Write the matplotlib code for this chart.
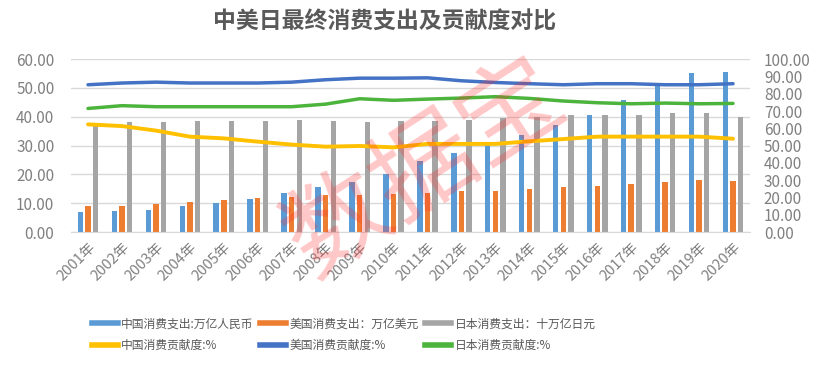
import numpy as np
import matplotlib
matplotlib.use("Agg")
from matplotlib import pyplot as plt
from matplotlib.lines import Line2D
from matplotlib.ticker import FormatStrFormatter, MultipleLocator

plt.rcParams['font.family'] = ['Noto Sans CJK SC', 'DejaVu Sans']

years = [str(y) + "年" for y in range(2001, 2021)]

# 消费支出（左轴）
cn_spend = [7.0, 7.4, 7.7, 9.0, 10.2, 11.4, 13.7, 15.7, 17.5, 20.2,
            24.5, 27.3, 30.8, 33.7, 37.2, 40.8, 45.8, 51.0, 55.2, 55.7]
us_spend = [9.0, 9.2, 9.9, 10.5, 11.1, 11.8, 12.3, 12.9, 12.9, 13.3,
            13.7, 14.1, 14.4, 15.0, 15.5, 16.0, 16.6, 17.5, 18.1, 17.8]
jp_spend = [37.2, 38.1, 38.1, 38.4, 38.4, 38.7, 39.0, 38.7, 38.1, 38.4,
            38.4, 38.8, 39.5, 40.0, 40.5, 40.5, 40.8, 41.4, 41.4, 40.0]

# 消费贡献度 %（右轴）
cn_contrib = [62.3, 61.3, 58.7, 55.2, 54.2, 52.3, 50.6, 49.4, 49.8, 49.0,
              51.0, 51.0, 51.0, 52.5, 53.8, 55.2, 55.2, 55.2, 55.2, 54.0]
us_contrib = [85.2, 86.2, 86.7, 86.2, 86.2, 86.2, 86.7, 88.1, 89.0, 89.0,
              89.2, 87.5, 86.5, 85.8, 85.2, 85.8, 85.8, 85.2, 85.2, 85.8]
jp_contrib = [71.5, 73.1, 72.5, 72.5, 72.5, 72.5, 72.5, 74.0, 77.1, 76.2,
              76.9, 77.5, 78.3, 77.3, 75.8, 74.8, 74.2, 74.6, 74.2, 74.4]

labels = ["中国消费支出:万亿人民币", "美国消费支出：万亿美元", "日本消费支出：十万亿日元",
          "中国消费贡献度:%", "美国消费贡献度:%", "日本消费贡献度:%"]
colors = ["#5B9BD5", "#ED7D31", "#A5A5A5", "#FFC000", "#4472C4", "#4CB43C"]

tick_color = "#808080"

fig = plt.figure(figsize=(8.26, 3.72), dpi=100)
ax = fig.add_axes([0.086, 0.376, 0.822, 0.465])
ax2 = ax.twinx()

x = np.arange(len(years))
w = 0.16
off = 0.225
ax.bar(x - off, cn_spend, w, color=colors[0], zorder=2)
ax.bar(x, us_spend, w, color=colors[1], zorder=2)
ax.bar(x + off, jp_spend, w, color=colors[2], zorder=2)

ax2.plot(x, cn_contrib, color=colors[3], lw=2.8, solid_capstyle='round', solid_joinstyle='round')
ax2.plot(x, us_contrib, color=colors[4], lw=2.5, solid_capstyle='round', solid_joinstyle='round')
ax2.plot(x, jp_contrib, color=colors[5], lw=2.5, solid_capstyle='round', solid_joinstyle='round')

ax.set_xlim(-0.5, len(years) - 0.5)
ax.set_ylim(0, 60)
ax2.set_ylim(0, 100)
ax.yaxis.set_major_locator(MultipleLocator(10))
ax2.yaxis.set_major_locator(MultipleLocator(10))
ax.yaxis.set_major_formatter(FormatStrFormatter('%.2f'))
ax2.yaxis.set_major_formatter(FormatStrFormatter('%.2f'))

ax.grid(axis='y', color='#D9D9D9', lw=1, zorder=0)
ax.set_axisbelow(True)
for a in (ax, ax2):
    for s in ('top', 'left', 'right'):
        a.spines[s].set_visible(False)
    a.spines['bottom'].set_color('#D9D9D9')
    a.tick_params(length=0, colors=tick_color, labelsize=11)
ax2.spines['bottom'].set_visible(False)

ax.set_xticks(x)
ax.set_xticklabels(years, rotation=45, ha='right', va='top',
                   rotation_mode='anchor', fontsize=10.5, color=tick_color)
ax.tick_params(axis='x', pad=6)
ax.tick_params(axis='y', pad=12)
ax2.tick_params(axis='y', pad=10)

fig.text(0.465, 0.94, "中美日最终消费支出及贡献度对比", ha='center', va='center',
         fontsize=16.5, fontweight='bold', color='#595959')

# watermark
fig.text(0.515, 0.545, "数据宝", ha='center', va='center', rotation=33,
         fontsize=74, color='#FF2A2A', alpha=0.26, zorder=10)

handles = [Line2D([], [], color=c, lw=4) for c in colors]
order = [0, 3, 1, 4, 2, 5]
fig.legend([handles[i] for i in order], [labels[i] for i in order],
           ncol=3, loc='upper left', bbox_to_anchor=(0.098, 0.175),
           frameon=False, fontsize=8.5, handlelength=2.2, handletextpad=0.3,
           columnspacing=0.55, labelspacing=0.7, labelcolor='#595959')

fig.savefig("out.png", dpi=100, facecolor='white')
